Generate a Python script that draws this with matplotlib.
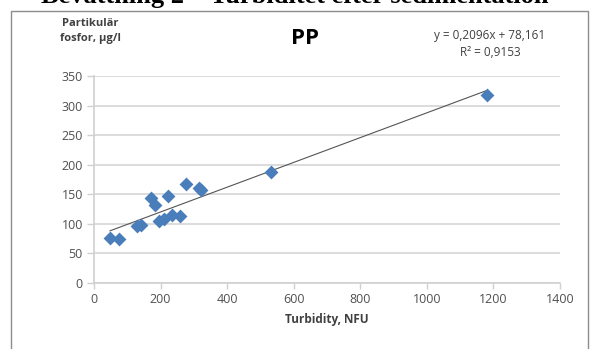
import matplotlib
matplotlib.use("Agg")
import matplotlib.pyplot as plt
import numpy as np

turbidity = [48, 75, 128, 141, 170, 183, 194, 210, 223, 233, 258, 276, 315, 320, 532, 1180]
pp = [76, 74, 96, 98, 143, 132, 105, 108, 147, 115, 113, 167, 160, 158, 188, 318]
slope, intercept = 0.2096, 78.161
xticks = [0, 200, 400, 600, 800, 1000, 1200, 1400]
yticks = [0, 50, 100, 150, 200, 250, 300, 350]

fig = plt.figure(figsize=(5.9, 3.49), dpi=100)
fig.patch.set_facecolor("white")

# page heading, cut off at the top as in the source
fig.text(0.5, 0.991, "Bevattning 2 \u2013 Turbiditet efter sedimentation",
         family="Liberation Serif", fontweight="bold", fontsize=19,
         ha="center", va="baseline", color="black")

# chart frame
frame = plt.Rectangle((11/590, -0.05), (588-11)/590, 1.05 - 11/349,
                      transform=fig.transFigure, fill=False,
                      edgecolor="#8c8c8c", lw=1.0)
fig.add_artist(frame)

ax = fig.add_axes([94/590, 1-283/349, (560-94)/590, (283-76)/349])
ax.set_xlim(0, 1400)
ax.set_ylim(0, 350)
ax.set_xticks(xticks)
ax.set_yticks(yticks)
ax.grid(axis="y", color="#d9d9d9", lw=1.3)
ax.set_axisbelow(True)
for s in ["top", "right"]:
    ax.spines[s].set_visible(False)
for s in ["left", "bottom"]:
    ax.spines[s].set_color("#d0d0d0")
    ax.spines[s].set_linewidth(1.2)
ax.tick_params(axis="both", length=4, width=1.0, color="#d0d0d0",
               labelsize=9, labelcolor="#505050", direction="out")
ax.tick_params(axis="y", length=5, pad=3)
for lab in ax.get_xticklabels() + ax.get_yticklabels():
    lab.set_family("Open Sans")

xs = np.array([min(turbidity), max(turbidity)])
ax.plot(xs, slope * xs + intercept, color="#555555", lw=0.8, zorder=2)
ax.scatter(turbidity, pp, marker="D", s=50, color="#4A7EBB", zorder=3, linewidths=0)

ax.set_xlabel("Turbidity, NFU", family="Open Sans", fontweight="bold",
              fontsize=8.5, color="#404040", labelpad=5)

fig.text(90/590, 1-31/349, "Partikulär\nfosfor, µg/l", family="Open Sans",
         fontweight="bold", fontsize=8, color="#404040", ha="center",
         va="center", linespacing=1.5)
fig.text(305/590, 1-38/349, "PP", family="Open Sans", fontweight="bold",
         fontsize=16, color="black", ha="center", va="center")
fig.text(490/590, 1-44/349, "y = 0,2096x + 78,161\nR² = 0,9153",
         family="Open Sans", fontsize=8.5, color="#404040", ha="center",
         va="center", linespacing=1.4, multialignment="center")

fig.savefig("out.png", dpi=100, facecolor="white")
